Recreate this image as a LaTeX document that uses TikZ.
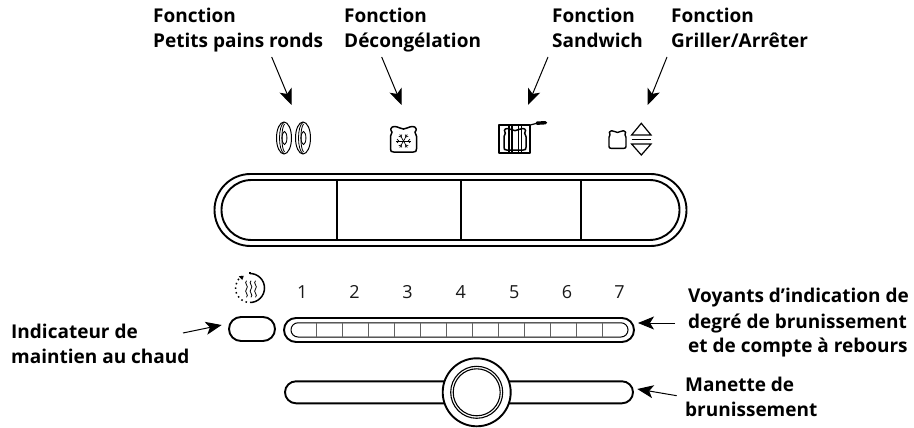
\documentclass[tikz,border=0pt]{standalone}
\usepackage{fontspec}
\setmainfont{Open Sans}
\usetikzlibrary{arrows.meta}
\tikzset{
  lab/.style={inner sep=0pt,anchor=base west,font=\bfseries\fontsize{19}{25}\selectfont},
  num/.style={inner sep=0pt,anchor=base,font=\fontsize{18}{22}\selectfont,text=black!90},
  callout/.style={line width=1pt,-{Stealth[length=16pt,width=13pt,inset=4pt]}},
  pen/.style={line width=1.9pt},
  thinpen/.style={line width=1.1pt},
  seg/.style={line width=1.4pt,draw=black!62},
}
\newcommand{\toastat}[5]{%
  \begin{scope}[shift={(#1,#2)},x=#3pt,y=-#4pt]
  \draw[#5,line join=round] (0.12,1) -- (0.88,1) .. controls (0.97,1) and (1,0.97) .. (1,0.88)
    -- (1,0.38) .. controls (1,0.3) and (0.94,0.3) .. (0.94,0.22)
    .. controls (1.02,0.15) and (1,0) .. (0.85,0)
    .. controls (0.7,0) and (0.62,0.1) .. (0.5,0.1)
    .. controls (0.38,0.1) and (0.3,0) .. (0.15,0)
    .. controls (0,0) and (-0.02,0.15) .. (0.06,0.22)
    .. controls (0.06,0.3) and (0,0.3) .. (0,0.38)
    -- (0,0.88) .. controls (0,0.97) and (0.03,1) .. (0.12,1) -- cycle;
  \end{scope}}
\begin{document}
\begin{tikzpicture}[x=1pt,y=-1pt]
\useasboundingbox (0,0) rectangle (914,428);
% labels
\node[lab] (l1) at (153,23) {Fonction};
\node[lab] (l1b) at (153,48) {Petits pains ronds};
\node[lab] (l2) at (344,23) {Fonction};
\node[lab] (l2b) at (344,48) {Décongélation};
\node[lab] (l3) at (552,23) {Fonction};
\node[lab] (l3b) at (552,48) {Sandwich};
\node[lab] (l4) at (671,23) {Fonction};
\node[lab] (l4b) at (671,48) {Griller/Arrêter};
\node[lab] (l5) at (11,338) {Indicateur de};
\node[lab] (l5b) at (11,363) {maintien au chaud};
\node[lab] (l6) at (688,302) {Voyants d’indication de};
\node[lab] (l6b) at (688,328) {degré de brunissement};
\node[lab] (l6c) at (688,352) {et de compte à rebours};
\node[lab] (l7) at (685,391) {Manette de};
\node[lab] (l7b) at (685,416) {brunissement};
% callouts
\coordinate (a1s) at (271.7,57); \coordinate (a1e) at (291.7,105);
\coordinate (a2s) at (381.7,57); \coordinate (a2e) at (401.7,105);
\coordinate (a3s) at (548,57);   \coordinate (a3e) at (528,105);
\coordinate (a4s) at (667,57);   \coordinate (a4e) at (647.7,105);
\coordinate (a5s) at (183,333);  \coordinate (a5e) at (221.7,325);
\coordinate (a6s) at (675,323);  \coordinate (a6e) at (638,323);
\coordinate (a7s) at (676.7,395.7); \coordinate (a7e) at (637.3,389);
\foreach \n in {1,...,7} \draw[callout] (a\n s) -- (a\n e);
% main button
\draw[pen,rounded corners=36pt] (214.5,174) rectangle (686.5,246);
\draw[pen,rounded corners=30pt] (221.5,180) rectangle (679.5,240);
\foreach \x in {337,461,581} \draw[line width=1.5pt] (\x,180) -- (\x,240);
% numbers
\foreach \x/\t in {302.3/1,354.5/2,407.5/3,460.7/4,514.3/5,567/6,619.5/7}
  \node[num] (n\t) at (\x,298.3) {\t};
% keep-warm indicator
\draw[pen,rounded corners=12pt] (229,317) rectangle (275,341);
% browning strip
\draw[pen,rounded corners=12pt] (284,318) rectangle (634,342);
\draw[line width=1pt,rounded corners=7pt] (291,322.8) rectangle (628,337);
\foreach \x in {316.3,342.3,...,603} \draw[seg] (\x,322.8) -- (\x,337);
% slider
\draw[pen,rounded corners=11pt] (285,381.3) rectangle (633,403.3);
\fill[white] (476.7,392.3) circle (34);
\draw[pen] (476.7,392.3) circle (34);
\draw[thinpen] (476.7,392.3) circle (26);
\draw[thinpen] (476.7,392.3) circle (23.5);
% rolls icon
\foreach \cx in {284,303}{
  \draw[line width=1pt] (\cx,138) ellipse (7.5 and 16);
  \draw[line width=0.9pt] (\cx+0.5,138) ellipse (2.4 and 6.5);
  \draw[line width=0.8pt] (\cx,122.3) .. controls (\cx-6,126) and (\cx-6,150) .. (\cx,153.7);
  \draw[line width=0.8pt] (\cx+0.5,124) .. controls (\cx-3,128) and (\cx-3,148) .. (\cx+0.5,152);
}
% defrost icon
\toastat{390.5}{126.5}{26}{25.5}{line width=1.5pt}
\foreach \a in {0,60,120,180,240,300}{
  \draw[line width=0.7pt] (403.5,141) -- ++(\a:7.5);
  \draw[line width=0.6pt] (403.5,141) ++(\a:4.6) -- ++(\a+45:2.6);
  \draw[line width=0.6pt] (403.5,141) ++(\a:4.6) -- ++(\a-45:2.6);
}
% sandwich icon
\toastat{504}{128.5}{22}{21.5}{line width=1.5pt}
\draw[line width=2.1pt,line join=round] (530,125) -- (499,125) -- (499,153.3) -- (530,153.3) -- (530,125);
\draw[line width=1.4pt] (509,125) -- (509,153.3) (512,125) -- (512,153.3);
\draw[line width=1.4pt] (518.5,125) -- (518.5,153.3) (521.5,125) -- (521.5,153.3);
\draw[line width=1.2pt] (530,125) -- (537,123.3);
\draw[line width=3.4pt,line cap=round] (537,123.2) -- (545.5,122.7);
% toast + up/down icon
\toastat{609}{130.7}{17}{17.6}{line width=1.4pt}
\draw[line width=1.2pt,line join=miter] (641.3,123.3) -- (651,135) -- (631.6,135) -- cycle;
\draw[line width=1.2pt] (631.6,139.3) -- (651,139.3);
\draw[line width=1.2pt,line join=miter] (631.6,144) -- (651,144) -- (641.3,155) -- cycle;
% keep-warm symbol
\draw[line width=1.5pt] (250,273.5) arc[start angle=-90,end angle=90,radius=14.5];
\draw[line width=1.5pt] (250,273.5) -- (250,271.8);
\draw[line width=1.5pt,dash pattern=on 1.5pt off 3.2pt] (247,302.2) arc[start angle=102,end angle=235,radius=14.5];
\fill (238.8,276.3) -- (243.8,275.8) -- (242.3,280) -- cycle;
\foreach \x in {246.5,251,255.5}
  \draw[line width=0.8pt] (\x,280.7) .. controls (\x-3,283.5) and (\x+3,286) .. (\x,289) .. controls (\x-3,292) and (\x+3,294.5) .. (\x,297.3);
\end{tikzpicture}
\end{document}
